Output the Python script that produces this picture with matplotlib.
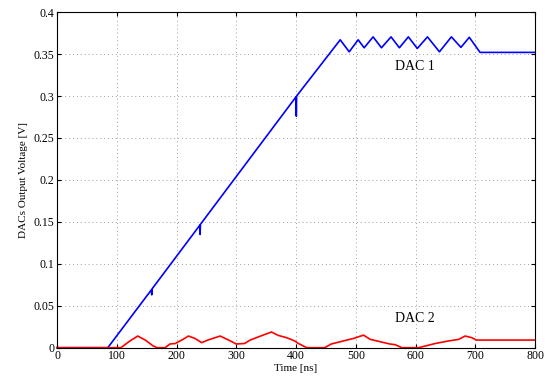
import matplotlib
matplotlib.use("Agg")
import matplotlib.pyplot as plt

# DAC 1 (blue) vertices: time [ns], voltage [V]
dac1_t = [0, 85, 158, 158.5, 159, 239, 239.5, 240, 400, 400.5, 401,
          474, 489, 504, 514, 529, 543, 559, 573, 588, 603, 620, 640,
          660, 676, 690, 708, 800]
dac1_v = [0, 0, 0.069, 0.063, 0.070, 0.146, 0.135, 0.147, 0.299, 0.276, 0.300,
          0.367, 0.3527, 0.367, 0.3575, 0.3705, 0.3575, 0.3705, 0.3575, 0.3705,
          0.3567, 0.3705, 0.3527, 0.3705, 0.358, 0.370, 0.352, 0.352]

# DAC 2 (red) vertices
dac2_t = [0, 107, 120, 135, 148, 161, 168, 181, 189, 198, 211, 220, 231, 242,
          252, 273, 287, 300, 314, 323, 340, 359, 370, 384, 398, 404, 418,
          448, 459, 479, 496, 513, 524, 541, 557, 566, 577, 605, 633, 655,
          672, 683, 694, 702, 800]
dac2_v = [0, 0, 0.007, 0.0139, 0.009, 0.002, 0, 0, 0.0044, 0.005, 0.010, 0.0139,
          0.011, 0.006, 0.009, 0.0139, 0.0092, 0.0044, 0.005, 0.009, 0.0137,
          0.0187, 0.0147, 0.012, 0.008, 0.005, 0, 0, 0.0044, 0.008, 0.011,
          0.015, 0.010, 0.0071, 0.0044, 0.0036, 0, 0, 0.005, 0.008, 0.0099,
          0.0139, 0.012, 0.0091, 0.0091]

x_ticks = [0, 100, 200, 300, 400, 500, 600, 700, 800]
y_ticks = [0, 0.05, 0.1, 0.15, 0.2, 0.25, 0.3, 0.35, 0.4]
y_tick_labels = ["0", "0.05", "0.1", "0.15", "0.2", "0.25", "0.3", "0.35", "0.4"]

plt.rcParams['font.family'] = ['Liberation Serif', 'DejaVu Serif']

fig = plt.figure(figsize=(5.45, 3.79), dpi=100)
ax = fig.add_axes([0.1046, 0.0826, 0.8771, 0.8854])

ax.plot(dac1_t, dac1_v, color='#0000ff', lw=1.2, clip_on=False)
ax.plot(dac2_t, dac2_v, color='#ff0000', lw=1.2, clip_on=False)

ax.set_xlim(0, 800)
ax.set_ylim(0, 0.4)
ax.set_xticks(x_ticks)
ax.set_yticks(y_ticks)
ax.set_yticklabels(y_tick_labels)
ax.tick_params(direction='in', length=3, labelsize=8.5, top=True, right=True, pad=2)
ax.grid(True, linestyle=(0, (1, 3)), color='#a0a0a0', linewidth=0.7)
for s in ax.spines.values():
    s.set_linewidth(0.8)

ax.set_xlabel("Time [ns]", fontsize=8, labelpad=1)
ax.set_ylabel("DACs Output Voltage [V]", fontsize=8, labelpad=4)

ax.text(599, 0.335, "DAC 1", fontsize=10, ha='center', va='center')
ax.text(599, 0.035, "DAC 2", fontsize=10, ha='center', va='center')

fig.savefig("out.png", dpi=100)
